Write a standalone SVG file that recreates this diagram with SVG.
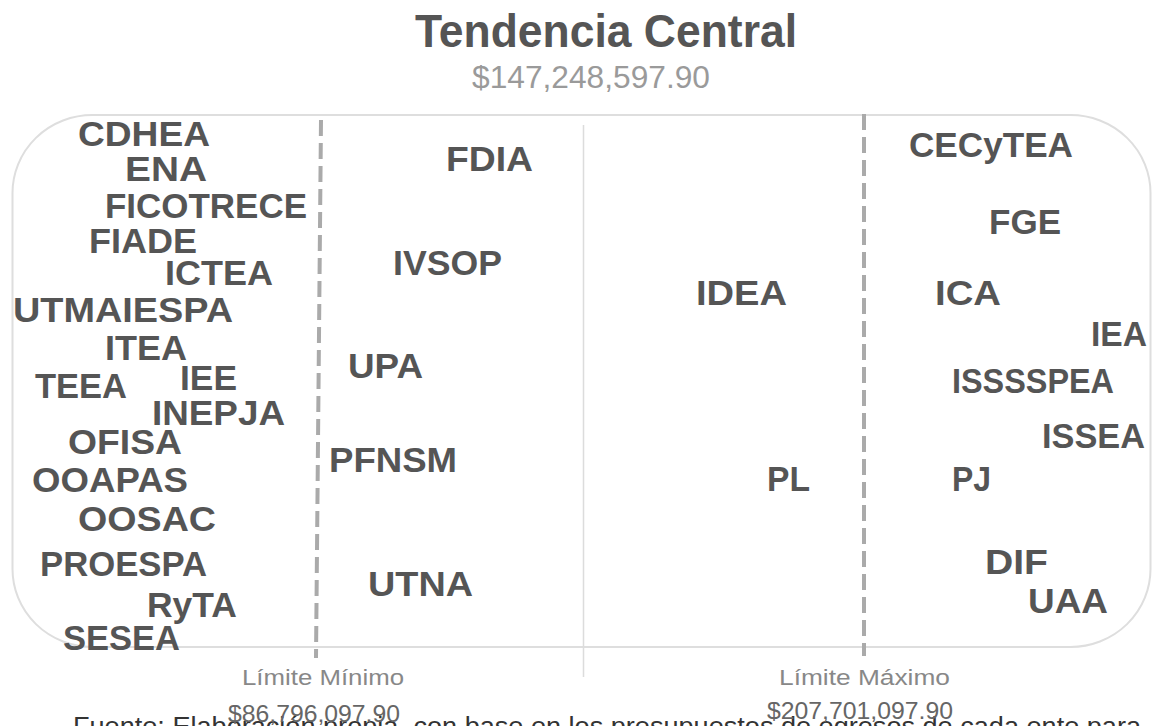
<svg xmlns="http://www.w3.org/2000/svg" width="1153" height="726" viewBox="0 0 1153 726">
<style>
.lbl{font-family:"Liberation Sans",Arial,sans-serif;font-weight:bold;font-size:35px;fill:#555;}
.title{font-family:"Liberation Sans",Arial,sans-serif;font-weight:bold;font-size:46px;fill:#555;}
.sub{font-family:"Liberation Sans",Arial,sans-serif;font-size:31px;fill:#9a9a9a;}
.lim{font-family:"Liberation Sans",Arial,sans-serif;font-size:22px;fill:#888;}
.val{font-family:"Liberation Sans",Arial,sans-serif;font-size:24px;fill:#666;}
.src{font-family:"Liberation Sans",Arial,sans-serif;font-size:26px;fill:#333;}
.dash{stroke:#aaa;stroke-width:4;stroke-dasharray:16 7;fill:none;}
</style>
<rect width="1153" height="726" fill="#fff"/>
<text class="title" x="415" y="47" textLength="382" lengthAdjust="spacingAndGlyphs">Tendencia Central</text>
<text class="sub" x="472" y="88" textLength="238" lengthAdjust="spacingAndGlyphs">$147,248,597.90</text>
<g id="frame">
<rect x="12.5" y="115" width="1138" height="532" rx="80" ry="78" fill="none" stroke="#dedede" stroke-width="2"/>
</g>
<g id="connectors">
<line class="dash" x1="321" y1="120" x2="316" y2="658"/>
<line class="dash" x1="864" y1="114" x2="864" y2="656"/>
<line x1="583.5" y1="125" x2="583.5" y2="677" stroke="#dcdcdc" stroke-width="1.5"/>
</g>
<g id="n-CDHEA"><text class="lbl" x="78" y="146" textLength="132" lengthAdjust="spacingAndGlyphs">CDHEA</text></g>
<g id="n-ENA"><text class="lbl" x="125" y="181" textLength="82" lengthAdjust="spacingAndGlyphs">ENA</text></g>
<g id="n-FICOTRECE"><text class="lbl" x="105" y="218" textLength="202" lengthAdjust="spacingAndGlyphs">FICOTRECE</text></g>
<g id="n-FIADE"><text class="lbl" x="89" y="253" textLength="108" lengthAdjust="spacingAndGlyphs">FIADE</text></g>
<g id="n-ICTEA"><text class="lbl" x="165" y="285" textLength="108" lengthAdjust="spacingAndGlyphs">ICTEA</text></g>
<g id="n-UTMAIESPA"><text class="lbl" x="13" y="322" textLength="220" lengthAdjust="spacingAndGlyphs">UTMAIESPA</text></g>
<g id="n-ITEA"><text class="lbl" x="105" y="360" textLength="82" lengthAdjust="spacingAndGlyphs">ITEA</text></g>
<g id="n-IEE"><text class="lbl" x="180" y="390" textLength="57" lengthAdjust="spacingAndGlyphs">IEE</text></g>
<g id="n-TEEA"><text class="lbl" x="35" y="398" textLength="92" lengthAdjust="spacingAndGlyphs">TEEA</text></g>
<g id="n-INEPJA"><text class="lbl" x="152" y="425" textLength="133" lengthAdjust="spacingAndGlyphs">INEPJA</text></g>
<g id="n-OFISA"><text class="lbl" x="68" y="454" textLength="114" lengthAdjust="spacingAndGlyphs">OFISA</text></g>
<g id="n-OOAPAS"><text class="lbl" x="32" y="492" textLength="156" lengthAdjust="spacingAndGlyphs">OOAPAS</text></g>
<g id="n-OOSAC"><text class="lbl" x="78" y="531" textLength="138" lengthAdjust="spacingAndGlyphs">OOSAC</text></g>
<g id="n-PROESPA"><text class="lbl" x="40" y="576" textLength="167" lengthAdjust="spacingAndGlyphs">PROESPA</text></g>
<g id="n-RyTA"><text class="lbl" x="147" y="617" textLength="90" lengthAdjust="spacingAndGlyphs">RyTA</text></g>
<g id="n-SESEA"><text class="lbl" x="63" y="650" textLength="117" lengthAdjust="spacingAndGlyphs">SESEA</text></g>
<g id="n-FDIA"><text class="lbl" x="446" y="171" textLength="87" lengthAdjust="spacingAndGlyphs">FDIA</text></g>
<g id="n-IVSOP"><text class="lbl" x="393" y="275" textLength="109" lengthAdjust="spacingAndGlyphs">IVSOP</text></g>
<g id="n-UPA"><text class="lbl" x="348" y="378" textLength="75" lengthAdjust="spacingAndGlyphs">UPA</text></g>
<g id="n-PFNSM"><text class="lbl" x="329" y="472" textLength="128" lengthAdjust="spacingAndGlyphs">PFNSM</text></g>
<g id="n-UTNA"><text class="lbl" x="368" y="596" textLength="105" lengthAdjust="spacingAndGlyphs">UTNA</text></g>
<g id="n-IDEA"><text class="lbl" x="696" y="305" textLength="91" lengthAdjust="spacingAndGlyphs">IDEA</text></g>
<g id="n-PL"><text class="lbl" x="767" y="491" textLength="43" lengthAdjust="spacingAndGlyphs">PL</text></g>
<g id="n-CECyTEA"><text class="lbl" x="909" y="157" textLength="164" lengthAdjust="spacingAndGlyphs">CECyTEA</text></g>
<g id="n-FGE"><text class="lbl" x="989" y="234" textLength="72" lengthAdjust="spacingAndGlyphs">FGE</text></g>
<g id="n-ICA"><text class="lbl" x="935" y="305" textLength="66" lengthAdjust="spacingAndGlyphs">ICA</text></g>
<g id="n-IEA"><text class="lbl" x="1091" y="346" textLength="56" lengthAdjust="spacingAndGlyphs">IEA</text></g>
<g id="n-ISSSSPEA"><text class="lbl" x="952" y="393" textLength="162" lengthAdjust="spacingAndGlyphs">ISSSSPEA</text></g>
<g id="n-ISSEA"><text class="lbl" x="1042" y="448" textLength="103" lengthAdjust="spacingAndGlyphs">ISSEA</text></g>
<g id="n-PJ"><text class="lbl" x="952" y="491" textLength="39" lengthAdjust="spacingAndGlyphs">PJ</text></g>
<g id="n-DIF"><text class="lbl" x="985" y="574" textLength="63" lengthAdjust="spacingAndGlyphs">DIF</text></g>
<g id="n-UAA"><text class="lbl" x="1028" y="613" textLength="80" lengthAdjust="spacingAndGlyphs">UAA</text></g>
<text class="src" x="73" y="735" textLength="1068" lengthAdjust="spacingAndGlyphs">Fuente: Elaboración propia, con base en los presupuestos de egresos de cada ente para</text>
<text class="lim" x="242" y="685" textLength="162" lengthAdjust="spacingAndGlyphs">Límite Mínimo</text>
<text class="lim" x="779" y="685" textLength="171" lengthAdjust="spacingAndGlyphs">Límite Máximo</text>
<text class="val" x="228" y="722" textLength="172" lengthAdjust="spacingAndGlyphs">$86,796,097.90</text>
<text class="val" x="767" y="719" textLength="186" lengthAdjust="spacingAndGlyphs">$207,701,097.90</text>
</svg>
